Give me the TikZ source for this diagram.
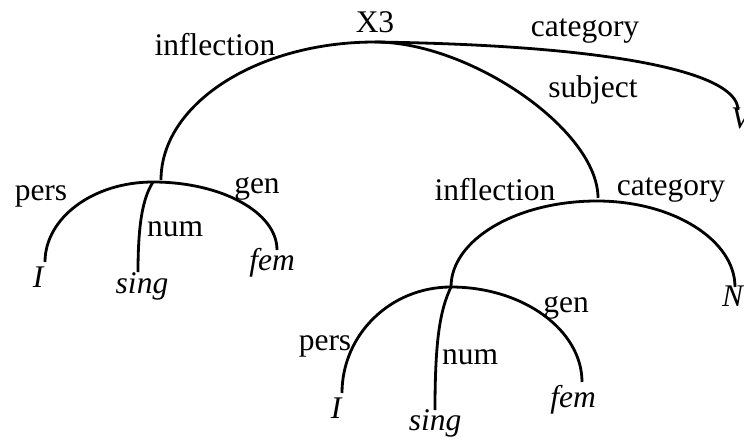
\documentclass[tikz,border=0pt]{standalone}
\usepackage{fontspec}
\setmainfont{Liberation Serif}
\begin{document}
\begin{tikzpicture}[x=1pt,y=-1pt,
  arcline/.style={line width=2.8pt},
  lbl/.style={inner sep=0pt,anchor=base,font=\fontsize{31.5}{36}\selectfont},
  val/.style={lbl,font=\fontsize{31.5}{36}\selectfont\itshape}]
\useasboundingbox (0,0) rectangle (744,439);
\clip (0,0) rectangle (744,439);
% points
\coordinate (t) at (375,42);
\coordinate (n1a) at (161,180);
\coordinate (n1) at (153,182);
\coordinate (vend) at (738,110);
\coordinate (n2a) at (598,198);
\coordinate (n2) at (597,201);
\coordinate (n3) at (451,287);
\coordinate (pI1) at (45,262);
\coordinate (pS1) at (138,272);
\coordinate (pF1) at (277,250);
\coordinate (pN) at (735,287);
\coordinate (pI2) at (342,393);
\coordinate (pS2) at (435,410);
\coordinate (pF2) at (582,382);
% arcs
\draw[arcline] (t) .. controls (257,42) and (161,104) .. (n1a);
\draw[arcline] (t) .. controls (600,45) and (738,70) .. (vend);
\draw[arcline] (t) .. controls (470,42) and (598,130) .. (n2a);
\draw[arcline] (n1) .. controls (93,182) and (45,218) .. (pI1);
\draw[arcline] (n1) .. controls (145,195) and (138,215) .. (pS1);
\draw[arcline] (n1) .. controls (221,182) and (277,212) .. (pF1);
\draw[arcline] (n2) .. controls (516,201) and (451,240) .. (n3);
\draw[arcline] (n2) .. controls (673,201) and (735,240) .. (pN);
\draw[arcline] (n3) .. controls (390,287) and (342,335) .. (pI2);
\draw[arcline] (n3) .. controls (440,310) and (435,340) .. (pS2);
\draw[arcline] (n3) .. controls (523,287) and (582,330) .. (pF2);
% labels
\node[lbl] (x3) at (375,32) {X3};
\node[lbl] (infl1) at (215,55) {inflection};
\node[lbl] (cat1) at (585,36) {category};
\node[lbl] (subj) at (593,97) {subject};
\node[val,anchor=base west] (vv) at (731,128) {V};
\node[lbl] (pers1) at (41,200) {pers};
\node[lbl] (num1) at (175,236) {num};
\node[lbl] (gen1) at (257,193) {gen};
\node[val] (i1) at (38,287) {I};
\node[val] (sing1) at (142,293) {sing};
\node[val] (fem1) at (272,270) {fem};
\node[lbl] (infl2) at (495,200) {inflection};
\node[lbl] (cat2) at (671,195) {category};
\node[val,anchor=base west] (nn) at (722,306) {N};
\node[lbl] (pers2) at (325,350) {pers};
\node[lbl] (num2) at (470,364) {num};
\node[lbl] (gen2) at (566,312) {gen};
\node[val] (i2) at (336,418) {I};
\node[val] (sing2) at (435,430) {sing};
\node[val] (fem2) at (573,407) {fem};
\end{tikzpicture}
\end{document}
